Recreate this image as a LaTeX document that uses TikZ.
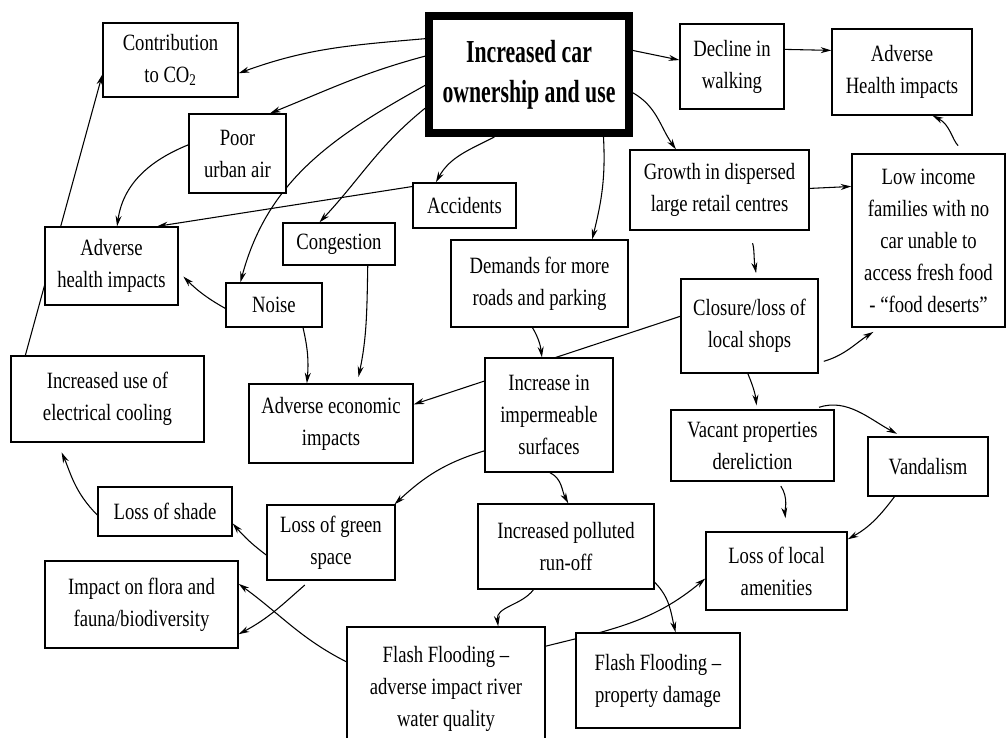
\documentclass[tikz,border=0pt]{standalone}
\usepackage{fontspec}
\setmainfont[FakeStretch=0.8]{Liberation Serif}
\newfontfamily\headfont[FakeStretch=0.68]{Liberation Serif}
\usetikzlibrary{arrows.meta}
\pgfdeclarelayer{background}
\pgfsetlayers{background,main}
\tikzset{
  box/.style 2 args={draw, fill=white, line width=1pt, minimum width=#1*0.75pt,
    minimum height=#2*0.75pt, inner sep=0pt, align=center,
    font=\fontsize{17.5}{24}\selectfont},
  mainbox/.style={draw, fill=white, line width=6pt, minimum width=200*0.75pt,
    minimum height=117*0.75pt, inner sep=0pt, align=center,
    font=\headfont\bfseries\fontsize{24}{30}\selectfont},
  conn/.style={-{Stealth[length=8pt,width=4.5pt]}, line width=0.8pt}
}
\begin{document}
\begin{tikzpicture}[x=0.75pt,y=-0.75pt]
\useasboundingbox (0,0) rectangle (1007,738);
\clip (0,0) rectangle (1007,738);

\node[mainbox] (car) at (529,74.5) {Increased car\\ownership and use};
\node[box={135}{74}] (co2) at (170.5,60) {Contribution\\to CO\textsubscript{2}};
\node[box={104}{85}] (walk) at (732,66.5) {Decline in\\walking};
\node[box={140}{86}] (aht) at (902,72) {Adverse\\Health impacts};
\node[box={97}{79}] (air) at (237.5,153.5) {Poor\\urban air};
\node[box={103}{45}] (acc) at (464.5,205.5) {Accidents};
\node[box={179}{80}] (grow) at (719.5,190) {Growth in dispersed\\large retail centres};
\node[box={153}{173}] (low) at (928.5,240.5) {Low income\\families with no\\car unable to\\access fresh food\\- “food deserts”};
\node[box={133}{78}] (ahl) at (111.5,266) {Adverse\\health impacts};
\node[box={112}{42}] (cong) at (339,244) {Congestion};
\node[box={96}{44}] (noise) at (274,305) {Noise};
\node[box={177}{87}] (dem) at (539.5,283.5) {Demands for more\\roads and parking};
\node[box={137}{94}] (clos) at (749.5,326) {Closure/loss of\\local shops};
\node[box={193}{86}] (cool) at (107.5,399) {Increased use of\\electrical cooling};
\node[box={164}{79}] (econ) at (331,423.5) {Adverse economic\\impacts};
\node[box={128}{114}] (imp) at (549,415) {Increase in\\impermeable\\surfaces};
\node[box={163}{71}] (vac) at (752.5,445.5) {Vacant properties\\dereliction};
\node[box={120}{59}] (vand) at (928,466.5) {Vandalism};
\node[box={134}{49}] (shade) at (165,511.5) {Loss of shade};
\node[box={128}{75}] (green) at (331,542.5) {Loss of green\\space};
\node[box={176}{85}] (run) at (566,546.5) {Increased polluted\\run-off};
\node[box={141}{78}] (amen) at (776.5,571) {Loss of local\\amenities};
\node[box={193}{87}] (flora) at (141.5,604.5) {Impact on flora and\\fauna/biodiversity};
\node[box={198}{123}] (fflood) at (446,688.5) {Flash Flooding –\\adverse impact river\\water quality};
\node[box={164}{95}] (fprop) at (658,680.5) {Flash Flooding –\\property damage};

\begin{pgfonlayer}{background}
\fill[white] (0,0) rectangle (1007,738);
\draw[conn] (car.161) to[out=185,in=20] (co2.-11);
\draw[conn] (car.170) to[out=195,in=22] (air.51);
\draw[conn] (car.186) to[out=209,in=75] (noise.146);
\draw[conn] (car.198) to[out=219,in=47] (cong.132);
\draw[conn] (car.241) to[out=207,in=61] (acc.141);
\draw[conn] (car.320) to[out=-87,in=76] (dem.40);
\draw[conn] (car.13) -- (walk.173);
\draw[conn] (car.-10) to[out=-30,in=125] (grow.137);
\draw[conn] (walk.18) -- (aht.163);
\draw[conn,shorten <=8pt] (low.67) to[out=134,in=-27] (aht.-55);
\draw[conn] (grow.1) -- (low.145);
\draw[conn,shorten <=10pt,shorten >=4pt] (grow.-55) to[out=-70,in=100] (clos.81);
\draw[conn,shorten <=4pt,shorten >=6pt] (clos.-28) to[out=16,in=212] (low.241);
\draw[conn] (clos.172) -- (econ.13);
\draw[conn] (dem.261) to[out=-60,in=97] (imp.97);
\draw[conn,shorten >=5pt] (cong.-37) to[out=-91,in=78] (econ.57);
\draw[conn] (noise.-38) to[out=-77,in=85] (econ.121);
\draw[conn,shorten >=5pt] (noise.184) to[out=151,in=-45] (ahl.-5);
\draw[conn] (air.170) to[out=202,in=82] (ahl.82);
\draw[conn] (acc.160) -- (ahl.41);
\draw[conn] (cool.152) -- (co2.192);
\draw[conn,shorten >=8pt] (shade.183) to[out=135,in=-66] (cool.221);
\draw[conn] (green.191) to[out=143,in=-49] (shade.-10);
\draw[conn,shorten <=5pt] (green.241) to[out=221,in=28] (flora.-17.5);
\draw[conn] (fflood.165) to[out=153,in=-36] (flora.12);
\draw[conn] (imp.209) to[out=197,in=43] (green.31);
\draw[conn] (imp.271) to[out=-27,in=118] (run.87);
\draw[conn] (run.233) to[out=233,in=97] (fflood.50);
\draw[conn] (run.-22.5) to[out=-45,in=103] (fprop.70);
\draw[conn] (fflood.23) to[out=14,in=220] (amen.186);
\draw[conn,shorten >=3pt] (clos.268) to[out=-67,in=96] (vac.83);
\draw[conn,shorten <=5pt,shorten >=4pt] (vac.31) to[out=18,in=152] (vand.131);
\draw[conn,shorten <=4pt,shorten >=10pt] (vac.-55) to[out=-56,in=97] (amen.75);
\draw[conn] (vand.222) to[out=233,in=29] (amen.24);
\end{pgfonlayer}
\end{tikzpicture}
\end{document}
